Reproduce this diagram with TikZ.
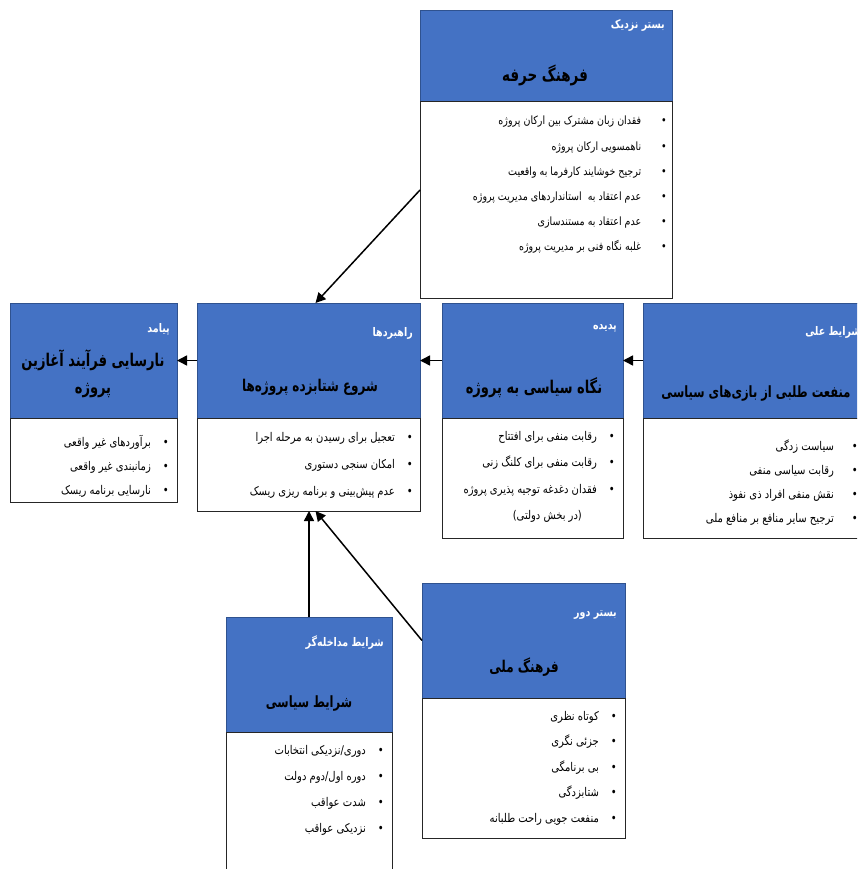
\documentclass[tikz,border=0pt]{standalone}
\usepackage{fontspec}
\newfontfamily\fa[Script=Arabic]{DejaVu Sans}
\TeXXeTstate=1
\usetikzlibrary{positioning,arrows.meta}

\definecolor{hdrblue}{HTML}{4472C4}
\definecolor{hdrline}{HTML}{2F528F}
% right-to-left line, a little taller than DejaVu draws it
\newcommand{\rl}[2][1.35]{\scalebox{1}[#1]{\beginR #2\endR}}
\newcommand{\itm}[2][12pt]{\scalebox{1}[1.2]{\beginR\textbullet\hspace{#1}#2\endR}}

\tikzset{
  hdr/.style={draw=hdrline, fill=hdrblue, line width=0.6pt, anchor=north west, inner sep=0pt, outer sep=0pt},
  bodybox/.style={draw=black!85, fill=white, line width=1pt, inner sep=0pt, outer sep=0pt},
  lbl/.style={font=\fa\bfseries\fontsize{9.5}{11}\selectfont, text=white, inner sep=0pt, anchor=east},
  ttl/.style={font=\fa\bfseries\fontsize{#1}{27}\selectfont, align=center, inner sep=0pt},
  ttl/.default=13,
  items/.style={font=\fa\fontsize{10}{#1}\selectfont, align=right, inner sep=0pt, anchor=north east},
  conn/.style={line width=1.5pt, -{Triangle[length=10pt,width=10pt]}}
}

\begin{document}
\begin{tikzpicture}[x=1pt,y=-1pt]
  \useasboundingbox (0,0) rectangle (857,869);
  \clip (0,0) rectangle (857,869);

  % boxes
  \node[hdr, minimum width=252pt, minimum height=92pt] (hdrA) at (420,10) {};
  \node[bodybox, minimum width=252pt, minimum height=196pt, below=0pt of hdrA] (bodyA) {};
  \node[hdr, minimum width=167pt, minimum height=115pt] (hdrB) at (10,303) {};
  \node[bodybox, minimum width=167pt, minimum height=84pt, below=0pt of hdrB] (bodyB) {};
  \node[hdr, minimum width=223pt, minimum height=115pt] (hdrC) at (197,303) {};
  \node[bodybox, minimum width=223pt, minimum height=93pt, below=0pt of hdrC] (bodyC) {};
  \node[hdr, minimum width=181pt, minimum height=115pt] (hdrD) at (442,303) {};
  \node[bodybox, minimum width=181pt, minimum height=120pt, below=0pt of hdrD] (bodyD) {};
  \node[hdr, minimum width=225pt, minimum height=115pt] (hdrE) at (643,303) {};
  \node[bodybox, minimum width=225pt, minimum height=120pt, below=0pt of hdrE] (bodyE) {};
  \node[hdr, minimum width=166pt, minimum height=115pt] (hdrF) at (226,617) {};
  \node[bodybox, minimum width=166pt, minimum height=160pt, below=0pt of hdrF] (bodyF) {};
  \node[hdr, minimum width=203pt, minimum height=115pt] (hdrG) at (422,583) {};
  \node[bodybox, minimum width=203pt, minimum height=140pt, below=0pt of hdrG] (bodyG) {};

  % labels and titles
  \node[lbl] (lblA) at (665,25) {\rl[1.25]{بستر نزدیک}};
  \node[ttl=13.5] (ttlA) at (545,75) {\rl{فرهنگ حرفه}};
  \node[lbl] (lblB) at (170,329) {\rl[1.25]{پیامد}};
  \node[ttl] (ttlB) at (93,374) {\rl{نارسایی فرآیند آغازین}\\\rl{پروژه}};
  \node[lbl] (lblC) at (413,333) {\rl[1.25]{راهبردها}};
  \node[ttl=12] (ttlC) at (310,387) {\rl{شروع شتابزده پروژه^^^^200cها}};
  \node[lbl] (lblD) at (617,328) {\rl[1.25]{پدیده}};
  \node[ttl] (ttlD) at (534,388) {\rl{نگاه سیاسی به پروژه}};
  \node[lbl] (lblE) at (861,332) {\rl[1.25]{شرایط علی}};
  \node[ttl=11.5] (ttlE) at (756,393) {\rl{منفعت طلبی از بازی^^^^200cهای سیاسی}};
  \node[lbl] (lblF) at (384,643) {\rl[1.25]{شرایط مداخله^^^^200cگر}};
  \node[ttl=11.5] (ttlF) at (309,703) {\rl{شرایط سیاسی}};
  \node[lbl] (lblG) at (617,615) {\rl[1.25]{بستر دور}};
  \node[ttl=12] (ttlG) at (524,667) {\rl{فرهنگ ملی}};

  % bullet lists
  \node[items=25.2, font=\fa\fontsize{9.5}{25.2}\selectfont] (lstA) at (667,116) {%
    \itm[20pt]{فقدان زبان مشترک بین ارکان پروژه}\\
    \itm[20pt]{ناهمسویی ارکان پروژه}\\
    \itm[20pt]{ترجیح خوشایند کارفرما به واقعیت}\\
    \itm[20pt]{عدم اعتقاد به~ استانداردهای مدیریت پروژه}\\
    \itm[20pt]{عدم اعتقاد به مستندسازی}\\
    \itm[20pt]{غلبه نگاه فنی بر مدیریت پروژه}};
  \node[items=24] (lstB) at (169,435) {%
    \itm{برآوردهای غیر واقعی}\\
    \itm{زمانبندی غیر واقعی}\\
    \itm{نارسایی برنامه ریسک}};
  \node[items=27] (lstC) at (413,432) {%
    \itm{تعجیل برای رسیدن به مرحله اجرا}\\
    \itm{امکان سنجی دستوری}\\
    \itm{عدم پیش^^^^200cبینی و برنامه ریزی ریسک}};
  \node[items=26.5] (lstD) at (615,431) {%
    \itm{رقابت منفی برای افتتاح}\\
    \itm{رقابت منفی برای کلنگ زنی}\\
    \itm{فقدان دغدغه توجیه پذیری پروژه}\\
    \scalebox{1}[1.2]{\beginR\phantom{\textbullet}\hspace{27pt}(در بخش دولتی)\endR}};
  \node[items=24] (lstE) at (858,440) {%
    \itm[18pt]{سیاست زدگی}\\
    \itm[18pt]{رقابت سیاسی منفی}\\
    \itm[18pt]{نقش منفی افراد ذی نفوذ}\\
    \itm[18pt]{ترجیح سایر منافع بر منافع ملی}};
  \node[items=26] (lstF) at (384,745) {%
    \itm{دوری/نزدیکی انتخابات}\\
    \itm{دوره اول/دوم دولت}\\
    \itm{شدت عواقب}\\
    \itm{نزدیکی عواقب}};
  \node[items=25.5] (lstG) at (617,711) {%
    \itm{کوتاه نظری}\\
    \itm{جزئی نگری}\\
    \itm{بی برنامگی}\\
    \itm{شتابزدگی}\\
    \itm{منفعت جویی راحت طلبانه}};

  % connectors
  \draw[conn] ([yshift=10pt]bodyA.west) -- ([xshift=7pt]hdrC.north);
  \draw[conn] (hdrC.west) -- (hdrB.east);
  \draw[conn] (hdrD.west) -- (hdrC.east);
  \draw[conn] (hdrE.west) -- (hdrD.east);
  \draw[conn] (hdrF.north) -- (hdrF.north |- bodyC.south);
  \draw[conn] (hdrG.west) -- ([xshift=7pt]bodyC.south);
\end{tikzpicture}
\end{document}
